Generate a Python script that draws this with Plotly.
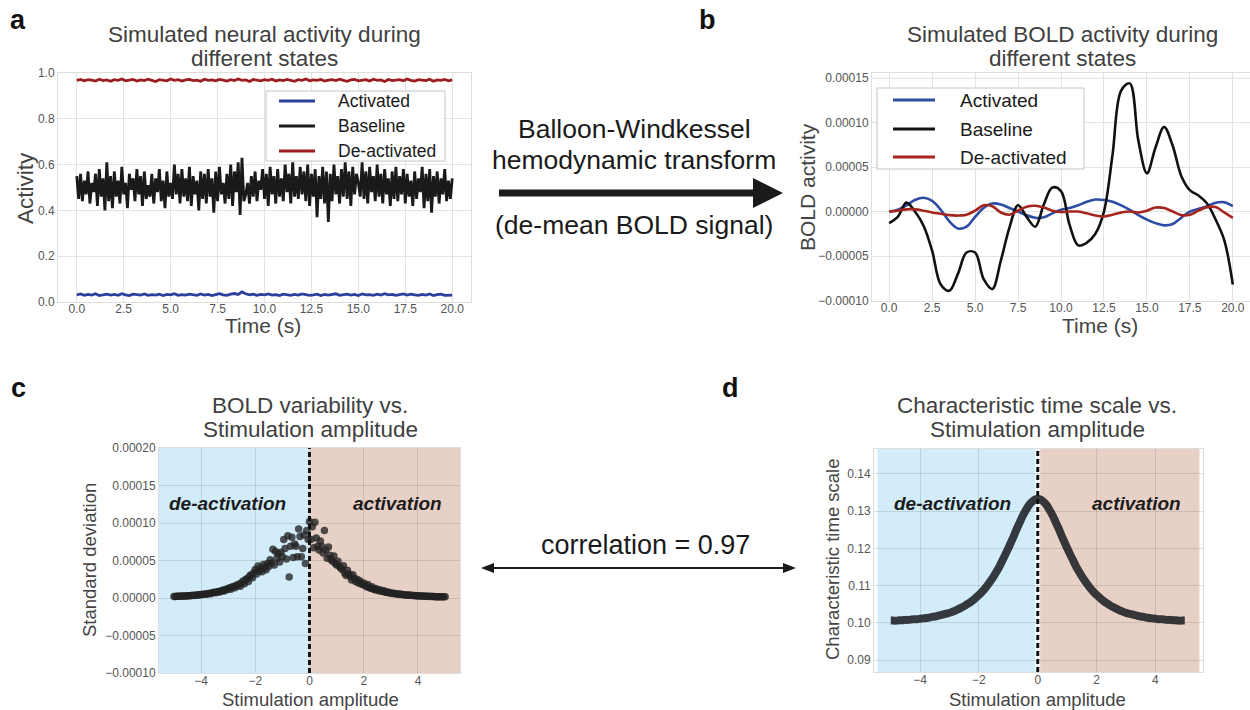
import plotly.graph_objects as go

# ---------------------------------------------------------------- data
# panel a: simulated neural activity (time in s)
time_s = [
    0.0, 0.1, 0.2, 0.3, 0.4, 0.5, 0.6, 0.7, 0.8, 0.9,
    1.0, 1.1, 1.2, 1.3, 1.4, 1.5, 1.6, 1.7, 1.8, 1.9,
    2.0, 2.1, 2.2, 2.3, 2.4, 2.5, 2.6, 2.7, 2.8, 2.9,
    3.0, 3.1, 3.2, 3.3, 3.4, 3.5, 3.6, 3.7, 3.8, 3.9,
    4.0, 4.1, 4.2, 4.3, 4.4, 4.5, 4.6, 4.7, 4.8, 4.9,
    5.0, 5.1, 5.2, 5.3, 5.4, 5.5, 5.6, 5.7, 5.8, 5.9,
    6.0, 6.1, 6.2, 6.3, 6.4, 6.5, 6.6, 6.7, 6.8, 6.9,
    7.0, 7.1, 7.2, 7.3, 7.4, 7.5, 7.6, 7.7, 7.8, 7.9,
    8.0, 8.1, 8.2, 8.3, 8.4, 8.5, 8.6, 8.7, 8.8, 8.9,
    9.0, 9.1, 9.2, 9.3, 9.4, 9.5, 9.6, 9.7, 9.8, 9.9,
    10.0, 10.1, 10.2, 10.3, 10.4, 10.5, 10.6, 10.7, 10.8, 10.9,
    11.0, 11.1, 11.2, 11.3, 11.4, 11.5, 11.6, 11.7, 11.8, 11.9,
    12.0, 12.1, 12.2, 12.3, 12.4, 12.5, 12.6, 12.7, 12.8, 12.9,
    13.0, 13.1, 13.2, 13.3, 13.4, 13.5, 13.6, 13.7, 13.8, 13.9,
    14.0, 14.1, 14.2, 14.3, 14.4, 14.5, 14.6, 14.7, 14.8, 14.9,
    15.0, 15.1, 15.2, 15.3, 15.4, 15.5, 15.6, 15.7, 15.8, 15.9,
    16.0, 16.1, 16.2, 16.3, 16.4, 16.5, 16.6, 16.7, 16.8, 16.9,
    17.0, 17.1, 17.2, 17.3, 17.4, 17.5, 17.6, 17.7, 17.8, 17.9,
    18.0, 18.1, 18.2, 18.3, 18.4, 18.5, 18.6, 18.7, 18.8, 18.9,
    19.0, 19.1, 19.2, 19.3, 19.4, 19.5, 19.6, 19.7, 19.8, 19.9,
    20.0,
]
baseline_activity = [
    0.55, 0.45, 0.56, 0.44, 0.53, 0.47, 0.57, 0.43, 0.52, 0.48,
    0.56, 0.42, 0.58, 0.46, 0.54, 0.40, 0.61, 0.44, 0.55, 0.41,
    0.57, 0.46, 0.53, 0.43, 0.59, 0.47, 0.52, 0.41, 0.56, 0.49,
    0.54, 0.44, 0.58, 0.47, 0.55, 0.42, 0.57, 0.45, 0.51, 0.46,
    0.56, 0.43, 0.54, 0.48, 0.58, 0.44, 0.53, 0.41, 0.57, 0.46,
    0.52, 0.45, 0.60, 0.47, 0.56, 0.43, 0.58, 0.46, 0.54, 0.44,
    0.59, 0.42, 0.55, 0.47, 0.53, 0.40, 0.57, 0.45, 0.56, 0.43,
    0.58, 0.46, 0.54, 0.39, 0.57, 0.44, 0.59, 0.47, 0.52, 0.43,
    0.56, 0.45, 0.60, 0.42, 0.57, 0.48, 0.61, 0.38, 0.63, 0.44,
    0.47, 0.52, 0.43, 0.55, 0.46, 0.57, 0.44, 0.53, 0.49, 0.58,
    0.45, 0.56, 0.42, 0.59, 0.47, 0.55, 0.43, 0.58, 0.46, 0.54,
    0.44, 0.60, 0.48, 0.56, 0.43, 0.61, 0.46, 0.55, 0.45, 0.59,
    0.47, 0.57, 0.44, 0.60, 0.42, 0.56, 0.46, 0.58, 0.37, 0.55,
    0.45, 0.59, 0.43, 0.57, 0.35, 0.56, 0.44, 0.60, 0.47, 0.55,
    0.43, 0.58, 0.46, 0.61, 0.45, 0.57, 0.42, 0.59, 0.47, 0.56,
    0.52, 0.46, 0.61, 0.45, 0.57, 0.43, 0.59, 0.48, 0.55, 0.44,
    0.60, 0.46, 0.56, 0.43, 0.58, 0.47, 0.54, 0.42, 0.57, 0.45,
    0.59, 0.44, 0.55, 0.47, 0.58, 0.43, 0.56, 0.46, 0.53, 0.42,
    0.57, 0.45, 0.54, 0.48, 0.59, 0.41, 0.56, 0.44, 0.58, 0.39,
    0.55, 0.46, 0.57, 0.43, 0.54, 0.47, 0.58, 0.44, 0.53, 0.45,
    0.54,
]
# activated / de-activated traces are sampled every 0.2 s
activated_activity = [
    0.031, 0.035, 0.029, 0.033, 0.030, 0.036, 0.028, 0.032, 0.034, 0.030,
    0.033, 0.029, 0.036, 0.031, 0.028, 0.034, 0.032, 0.030, 0.035, 0.029,
    0.032, 0.030, 0.034, 0.028, 0.033, 0.031, 0.036, 0.029, 0.032, 0.030,
    0.034, 0.031, 0.029, 0.035, 0.030, 0.033, 0.028, 0.032, 0.036, 0.031,
    0.029, 0.034, 0.037, 0.033, 0.044, 0.036, 0.031, 0.034, 0.029, 0.033,
    0.031, 0.035, 0.030, 0.032, 0.028, 0.034, 0.031, 0.029, 0.033, 0.030,
    0.035, 0.032, 0.029, 0.031, 0.034, 0.028, 0.033, 0.030, 0.032, 0.036,
    0.029, 0.031, 0.034, 0.030, 0.033, 0.028, 0.035, 0.031, 0.032, 0.029,
    0.034, 0.030, 0.036, 0.031, 0.033, 0.029, 0.032, 0.035, 0.030, 0.034,
    0.031, 0.029, 0.033, 0.030, 0.035, 0.028, 0.032, 0.034, 0.029, 0.031,
    0.030,
]
deactivated_activity = [
    0.968, 0.972, 0.966, 0.971, 0.969, 0.965, 0.973, 0.967, 0.970, 0.964,
    0.971, 0.968, 0.974, 0.966, 0.969, 0.972, 0.965, 0.970, 0.967, 0.973,
    0.968, 0.963, 0.971, 0.969, 0.966, 0.974, 0.968, 0.971, 0.965, 0.970,
    0.972, 0.967, 0.969, 0.964, 0.973, 0.968, 0.970, 0.966, 0.972, 0.969,
    0.965, 0.971, 0.967, 0.974, 0.968, 0.970, 0.963, 0.972, 0.969, 0.966,
    0.971, 0.968, 0.973, 0.965, 0.970, 0.967, 0.972, 0.969, 0.964, 0.971,
    0.968, 0.974, 0.966, 0.970, 0.968, 0.972, 0.965, 0.969, 0.971, 0.967,
    0.973, 0.968, 0.964, 0.970, 0.972, 0.966, 0.969, 0.971, 0.965, 0.973,
    0.968, 0.970, 0.963, 0.972, 0.967, 0.969, 0.971, 0.966, 0.974, 0.968,
    0.965, 0.971, 0.969, 0.967, 0.973, 0.964, 0.970, 0.968, 0.972, 0.966,
    0.970,
]

# panel b: de-meaned BOLD signal, sampled every 0.5 s (units of 1e-5)
bold_time_s = [
    0.0, 0.5, 1.0, 1.5, 2.0, 2.5, 3.0, 3.5, 4.0, 4.5,
    5.0, 5.5, 6.0, 6.5, 7.0, 7.5, 8.0, 8.5, 9.0, 9.5,
    10.0, 10.5, 11.0, 11.5, 12.0, 12.5, 13.0, 13.5, 14.0, 14.5,
    15.0, 15.5, 16.0, 16.5, 17.0, 17.5, 18.0, 18.5, 19.0, 19.5,
    20.0,
]
bold_activated_e5 = [
    0.0, 0.2, 0.7, 1.3, 1.55, 1.2, 0.2, -1.1, -1.9, -1.7,
    -0.6, 0.4, 0.9, 0.8, 0.4, 0.0, -0.4, -0.7, -0.65, -0.2,
    0.2, 0.4, 0.7, 1.1, 1.35, 1.3, 1.1, 0.7, 0.2, -0.4,
    -0.9, -1.3, -1.55, -1.4, -0.7, 0.0, 0.3, 0.6, 1.0, 1.05,
    0.6,
]
bold_baseline_e5 = [
    -1.3, -0.6, 1.0, 0.0, -1.6, -4.4, -8.2, -8.9, -7.0, -4.6,
    -4.6, -7.6, -8.7, -5.5, -1.8, 0.7, -0.6, -1.7, 0.8, 2.7,
    2.3, -1.5, -3.8, -3.5, -2.5, 0.0, 6.4, 13.6, 14.4, 8.0,
    4.3, 7.2, 9.5, 7.4, 4.0, 2.4, 1.8, 0.9, -0.9, -3.2,
    -8.2,
]
bold_deactivated_e5 = [
    0.0, 0.1, 0.25, 0.25, 0.1, -0.1, -0.25, -0.4, -0.45, -0.35,
    0.1, 0.7, 0.6, -0.1, -0.35, 0.1, 0.55, 0.65, 0.45, 0.1,
    -0.05, 0.0, 0.0, -0.2, -0.45, -0.55, -0.35, -0.1, 0.0, -0.1,
    0.1, 0.45, 0.4, 0.0, -0.4, -0.35, 0.1, 0.5, 0.5, -0.1,
    -0.7,
]

# panel c: BOLD standard deviation vs stimulation amplitude (units of 1e-5)
amplitude = [
    -5.0, -4.95, -4.9, -4.85, -4.8, -4.75, -4.7, -4.65, -4.6, -4.55,
    -4.5, -4.45, -4.4, -4.35, -4.3, -4.25, -4.2, -4.15, -4.1, -4.05,
    -4.0, -3.95, -3.9, -3.85, -3.8, -3.75, -3.7, -3.65, -3.6, -3.55,
    -3.5, -3.45, -3.4, -3.35, -3.3, -3.25, -3.2, -3.15, -3.1, -3.05,
    -3.0, -2.95, -2.9, -2.85, -2.8, -2.75, -2.7, -2.65, -2.6, -2.55,
    -2.5, -2.45, -2.4, -2.35, -2.3, -2.25, -2.2, -2.15, -2.1, -2.05,
    -2.0, -1.95, -1.9, -1.85, -1.8, -1.75, -1.7, -1.65, -1.6, -1.55,
    -1.5, -1.45, -1.4, -1.35, -1.3, -1.25, -1.2, -1.15, -1.1, -1.05,
    -1.0, -0.95, -0.9, -0.85, -0.8, -0.75, -0.7, -0.65, -0.6, -0.55,
    -0.5, -0.45, -0.4, -0.35, -0.3, -0.25, -0.2, -0.15, -0.1, -0.05,
    0.0, 0.05, 0.1, 0.15, 0.2, 0.25, 0.3, 0.35, 0.4, 0.45,
    0.5, 0.55, 0.6, 0.65, 0.7, 0.75, 0.8, 0.85, 0.9, 0.95,
    1.0, 1.05, 1.1, 1.15, 1.2, 1.25, 1.3, 1.35, 1.4, 1.45,
    1.5, 1.55, 1.6, 1.65, 1.7, 1.75, 1.8, 1.85, 1.9, 1.95,
    2.0, 2.05, 2.1, 2.15, 2.2, 2.25, 2.3, 2.35, 2.4, 2.45,
    2.5, 2.55, 2.6, 2.65, 2.7, 2.75, 2.8, 2.85, 2.9, 2.95,
    3.0, 3.05, 3.1, 3.15, 3.2, 3.25, 3.3, 3.35, 3.4, 3.45,
    3.5, 3.55, 3.6, 3.65, 3.7, 3.75, 3.8, 3.85, 3.9, 3.95,
    4.0, 4.05, 4.1, 4.15, 4.2, 4.25, 4.3, 4.35, 4.4, 4.45,
    4.5, 4.55, 4.6, 4.65, 4.7, 4.75, 4.8, 4.85, 4.9, 4.95,
    5.0,
]
bold_std_e5 = [
    0.20, 0.21, 0.22, 0.22, 0.23, 0.24, 0.25, 0.25, 0.27, 0.28,
    0.29, 0.31, 0.30, 0.33, 0.35, 0.34, 0.38, 0.40, 0.39, 0.44,
    0.46, 0.45, 0.50, 0.53, 0.51, 0.58, 0.62, 0.57, 0.68, 0.72,
    0.75, 0.70, 0.84, 0.88, 0.80, 0.97, 1.02, 0.93, 1.15, 1.10,
    1.22, 1.35, 1.18, 1.45, 1.52, 1.38, 1.70, 1.62, 1.85, 1.55,
    2.00, 2.25, 1.90, 2.45, 2.60, 2.20, 2.95, 3.10, 2.70, 3.40,
    3.80, 3.20, 4.25, 3.60, 4.00, 3.50, 4.45, 4.10, 3.75, 4.60,
    4.20, 5.10, 4.65, 6.50, 4.40, 6.20, 5.30, 5.90, 4.80, 6.10,
    5.50, 7.80, 6.60, 5.20, 8.30, 2.80, 6.90, 8.10, 5.40, 7.20,
    6.90, 5.50, 9.20, 8.20, 5.50, 6.60, 8.40, 4.60, 9.00, 7.80,
    10.20, 7.80, 9.50, 6.70, 10.10, 8.00, 6.90, 6.40, 7.60, 6.90,
    6.00, 9.00, 6.40, 5.30, 6.80, 5.70, 5.10, 4.90, 5.60, 4.60,
    4.40, 4.90, 4.20, 4.00, 3.80, 4.30, 3.30, 3.00, 3.70, 3.20,
    2.90, 2.40, 3.10, 2.60, 2.20, 2.50, 2.00, 2.30, 1.90, 1.80,
    2.00, 1.70, 1.50, 1.80, 1.40, 1.30, 1.50, 1.20, 1.10, 1.25,
    1.05, 0.98, 1.10, 0.90, 0.85, 0.95, 0.78, 0.72, 0.80, 0.66,
    0.68, 0.60, 0.64, 0.55, 0.58, 0.50, 0.52, 0.46, 0.49, 0.43,
    0.44, 0.40, 0.38, 0.41, 0.35, 0.36, 0.32, 0.34, 0.30, 0.29,
    0.30, 0.27, 0.28, 0.25, 0.26, 0.23, 0.24, 0.22, 0.21, 0.22,
    0.20, 0.19, 0.20, 0.18, 0.17, 0.18, 0.16, 0.17, 0.15, 0.16,
    0.15,
]

# panel d: characteristic time scale, sampled every 0.1 amplitude units
time_scale = [
    0.1006, 0.1006, 0.1006, 0.1007, 0.1007, 0.1008, 0.1008, 0.1009, 0.1010, 0.1010,
    0.1011, 0.1012, 0.1013, 0.1014, 0.1016, 0.1017, 0.1019, 0.1021, 0.1023, 0.1025,
    0.1027, 0.1030, 0.1033, 0.1037, 0.1041, 0.1045, 0.1050, 0.1055, 0.1061, 0.1068,
    0.1075, 0.1083, 0.1092, 0.1102, 0.1113, 0.1125, 0.1138, 0.1152, 0.1168, 0.1184,
    0.1201, 0.1218, 0.1236, 0.1255, 0.1272, 0.1289, 0.1303, 0.1316, 0.1325, 0.1331,
    0.1333,
    0.1331, 0.1325, 0.1316, 0.1303, 0.1289, 0.1272, 0.1255, 0.1236, 0.1218, 0.1201,
    0.1184, 0.1168, 0.1152, 0.1138, 0.1125, 0.1113, 0.1102, 0.1092, 0.1083, 0.1075,
    0.1068, 0.1061, 0.1055, 0.1050, 0.1045, 0.1041, 0.1037, 0.1033, 0.1030, 0.1027,
    0.1025, 0.1023, 0.1021, 0.1019, 0.1017, 0.1016, 0.1014, 0.1013, 0.1012, 0.1011,
    0.1010, 0.1010, 0.1009, 0.1008, 0.1008, 0.1007, 0.1007, 0.1006, 0.1006, 0.1006,
]

series_names = ["Activated", "Baseline", "De-activated"]

# ---------------------------------------------------------------- helpers
W, H = 1250, 710
FONT = "Liberation Sans, Arial, Helvetica, sans-serif"


def px(x):
    return x / W


def py(y):
    return 1 - y / H


def e5(values):
    return [v * 1e-5 for v in values]


COL_A = {"Activated": "#2c3f9c", "Baseline": "#1a1a1a", "De-activated": "#9d1c1c"}
COL_B = {"Activated": "#2d4ca3", "Baseline": "#111111", "De-activated": "#a6251f"}

fig = go.Figure()

# panel a traces
fig.add_trace(go.Scatter(x=time_s[::2], y=activated_activity, mode="lines",
                         line=dict(color=COL_A["Activated"], width=2.8),
                         xaxis="x", yaxis="y", showlegend=False))
fig.add_trace(go.Scatter(x=time_s, y=baseline_activity, mode="lines",
                         line=dict(color=COL_A["Baseline"], width=2.8),
                         xaxis="x", yaxis="y", showlegend=False))
fig.add_trace(go.Scatter(x=time_s[::2], y=deactivated_activity, mode="lines",
                         line=dict(color=COL_A["De-activated"], width=2.8),
                         xaxis="x", yaxis="y", showlegend=False))

# panel b traces
for name, vals in zip(series_names, [bold_activated_e5, bold_baseline_e5, bold_deactivated_e5]):
    fig.add_trace(go.Scatter(x=bold_time_s, y=e5(vals), mode="lines",
                             line=dict(color=COL_B[name], width=2.6, shape="spline", smoothing=1.0),
                             xaxis="x2", yaxis="y2", showlegend=False))

# panel c scatter
fig.add_trace(go.Scatter(x=amplitude, y=e5(bold_std_e5), mode="markers",
                         marker=dict(size=7.5, color="rgba(35,35,35,0.78)", line=dict(width=0)),
                         xaxis="x3", yaxis="y3", showlegend=False))

# panel d curve
fig.add_trace(go.Scatter(x=amplitude[::2], y=time_scale, mode="lines",
                         line=dict(color="rgba(30,32,36,0.88)", width=8, shape="spline"),
                         xaxis="x4", yaxis="y4", showlegend=False))

# ---------------------------------------------------------------- axes
tickfont = dict(family=FONT, size=12, color="#555555")


def axis_style(grid):
    return dict(showgrid=True, gridcolor=grid, gridwidth=1, zeroline=False,
                showline=True, mirror=True, linecolor="#dedede", linewidth=1,
                ticks="", tickfont=tickfont, automargin=False, fixedrange=True)


GRID_PLAIN = "#e3e3e3"
GRID_SHADED = "rgba(0,0,0,0.11)"
TIME_TICKS = [0, 2.5, 5, 7.5, 10, 12.5, 15, 17.5, 20]

layout_axes = dict(
    xaxis=dict(domain=[px(58), px(471)], range=[-1, 21], tickvals=TIME_TICKS, tickformat=".1f",
               anchor="y", ticklabelstandoff=-4, **axis_style(GRID_PLAIN)),
    yaxis=dict(domain=[py(302), py(73)], range=[0, 1], tick0=0, dtick=0.2, tickformat=".1f",
               anchor="x", **axis_style(GRID_PLAIN)),
    xaxis2=dict(domain=[px(872), 1.0], range=[-1, 21], tickvals=TIME_TICKS, tickformat=".1f",
                anchor="y2", ticklabelstandoff=-4, **axis_style(GRID_PLAIN)),
    yaxis2=dict(domain=[py(301), py(73)], range=[-0.0001005, 0.0001557], tick0=0, dtick=0.00005,
                tickformat=".5f", anchor="x2", **axis_style(GRID_PLAIN)),
    xaxis3=dict(domain=[px(159), px(460)], range=[-5.55, 5.55], tickvals=[-4, -2, 0, 2, 4],
                anchor="y3", ticklabelstandoff=-3, **axis_style(GRID_SHADED)),
    yaxis3=dict(domain=[py(673), py(448)], range=[-0.0001, 0.0002], tick0=0, dtick=0.00005,
                tickformat=".5f", anchor="x3", **axis_style(GRID_SHADED)),
    xaxis4=dict(domain=[px(874), px(1203)], range=[-5.57, 5.62], tickvals=[-4, -2, 0, 2, 4],
                anchor="y4", ticklabelstandoff=-3, **axis_style(GRID_SHADED)),
    yaxis4=dict(domain=[py(672), py(449)], range=[0.0868, 0.1467], tick0=0.09, dtick=0.01,
                tickformat=".2f", anchor="x4", **axis_style(GRID_SHADED)),
)

# ---------------------------------------------------------------- shapes
BLUE_FILL = "rgb(210,236,249)"
PINK_FILL = "rgb(231,209,199)"
shapes = [
    # panel c shading (beneath the grid)
    dict(type="rect", xref="x3", yref="y3", x0=-5.55, x1=0, y0=-0.0001, y1=0.0002,
         fillcolor=BLUE_FILL, line=dict(width=0), layer="below"),
    dict(type="rect", xref="x3", yref="y3", x0=0, x1=5.55, y0=-0.0001, y1=0.0002,
         fillcolor=PINK_FILL, line=dict(width=0), layer="below"),
    dict(type="line", xref="x3", yref="y3", x0=0, x1=0, y0=-0.0001, y1=0.0002,
         line=dict(color="#111111", width=3, dash="5px,3px"), layer="above"),
    # panel d shading
    dict(type="rect", xref="x4", yref="y4", x0=-5.45, x1=-0.08, y0=0.0868, y1=0.1467,
         fillcolor=BLUE_FILL, line=dict(width=0), layer="below"),
    dict(type="rect", xref="x4", yref="y4", x0=0.08, x1=5.5, y0=0.0868, y1=0.1467,
         fillcolor=PINK_FILL, line=dict(width=0), layer="below"),
    dict(type="line", xref="x4", yref="y4", x0=0, x1=0, y0=0.0868, y1=0.1467,
         line=dict(color="#111111", width=3, dash="5px,3px"), layer="above"),
]

# transform arrow between panels a and b
shapes.append(dict(type="line", xref="paper", yref="paper", x0=px(499), x1=px(757),
                   y0=py(193), y1=py(193), line=dict(color="#1a1a1a", width=7), layer="above"))
shapes.append(dict(type="path", xref="paper", yref="paper",
                   path=f"M {px(753)},{py(178)} L {px(783)},{py(193)} L {px(753)},{py(208)} Z",
                   fillcolor="#1a1a1a", line=dict(width=0), layer="above"))

# double-headed correlation arrow between panels c and d
shapes.append(dict(type="line", xref="paper", yref="paper", x0=px(490), x1=px(788),
                   y0=py(568), y1=py(568), line=dict(color="#1a1a1a", width=1.8), layer="above"))
shapes.append(dict(type="path", xref="paper", yref="paper",
                   path=f"M {px(481)},{py(568)} L {px(494)},{py(563)} L {px(494)},{py(573)} Z",
                   fillcolor="#1a1a1a", line=dict(width=0), layer="above"))
shapes.append(dict(type="path", xref="paper", yref="paper",
                   path=f"M {px(796)},{py(568)} L {px(783)},{py(563)} L {px(783)},{py(573)} Z",
                   fillcolor="#1a1a1a", line=dict(width=0), layer="above"))

annotations = []


def text(x, y, s, size, color="#404040", bold=False, italic=False, angle=0, xanchor="center"):
    t = s
    if bold:
        t = f"<b>{t}</b>"
    if italic:
        t = f"<i>{t}</i>"
    annotations.append(dict(x=px(x), y=py(y), xref="paper", yref="paper", text=t,
                            showarrow=False, xanchor=xanchor, yanchor="middle",
                            textangle=angle, font=dict(family=FONT, size=size, color=color)))


def title(cx, y_top, line1, line2):
    text(cx, y_top, line1, 22.5)
    text(cx, y_top + 24, line2, 22.5)


# legends
def legend(x0, x1, y0, y1, rows_y, lx0, lx1, tx, size, colors):
    shapes.append(dict(type="rect", xref="paper", yref="paper", x0=px(x0), x1=px(x1),
                       y0=py(y1), y1=py(y0), fillcolor="rgba(255,255,255,0.92)",
                       line=dict(color="#c4c4c4", width=1), layer="above"))
    for name, ry in zip(series_names, rows_y):
        shapes.append(dict(type="line", xref="paper", yref="paper", x0=px(lx0), x1=px(lx1),
                           y0=py(ry), y1=py(ry), line=dict(color=colors[name], width=2.8),
                           layer="above"))
        text(tx, ry, name, size, color="#1a1a1a", xanchor="left")


legend(266, 445, 91, 161, [101, 126, 151], 279, 315, 336, 17.5, COL_A)
legend(877, 1084, 88, 169, [100, 129, 157], 893, 935, 958, 19, COL_B)

# panel letters
text(18, 20, "a", 27, color="#111111", bold=True)
text(707, 20, "b", 27, color="#111111", bold=True)
text(18, 388, "c", 27, color="#111111", bold=True)
text(730, 388, "d", 27, color="#111111", bold=True)

# titles
title(264, 34, "Simulated neural activity during", "different states")
title(1062, 34, "Simulated BOLD activity during", "different states")
title(310, 405, "BOLD variability vs.", "Stimulation amplitude")
title(1037, 405, "Characteristic time scale vs.", "Stimulation amplitude")

# axis titles
text(25, 188, "Activity", 22.5, color="#444444", angle=-90)
text(263, 325, "Time (s)", 21, color="#444444")
text(807, 187, "BOLD activity", 21, color="#444444", angle=-90)
text(1100, 325, "Time (s)", 21, color="#444444")
text(89, 560, "Standard deviation", 18.5, color="#444444", angle=-90)
text(310, 699, "Stimulation amplitude", 18.5, color="#444444")
text(832, 559, "Characteristic time scale", 18.5, color="#444444", angle=-90)
text(1037, 699, "Stimulation amplitude", 18.5, color="#444444")

# region labels
for cx in (227, 952):
    text(cx, 503, "de-activation", 19, color="#1c1c1c", bold=True, italic=True)
for cx in (397, 1136):
    text(cx, 503, "activation", 19, color="#1c1c1c", bold=True, italic=True)

# middle annotations
text(634, 129, "Balloon-Windkessel", 26.5, color="#1a1a1a")
text(634, 160, "hemodynamic transform", 26.5, color="#1a1a1a")
text(634, 225, "(de-mean BOLD signal)", 26.5, color="#1a1a1a")
text(645, 545, "correlation = 0.97", 27, color="#1a1a1a")

fig.update_layout(
    template="none",
    width=W, height=H, autosize=False,
    margin=dict(l=0, r=0, t=0, b=0, pad=0),
    paper_bgcolor="white", plot_bgcolor="white",
    font=dict(family=FONT),
    showlegend=False,
    shapes=shapes,
    annotations=annotations,
    **layout_axes,
)

fig.write_html("out.html")
